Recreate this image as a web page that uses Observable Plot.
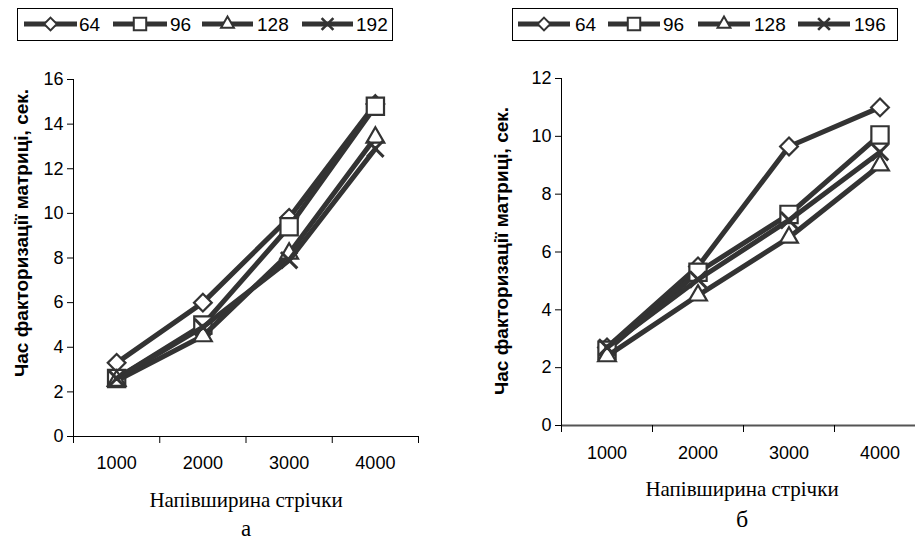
<!DOCTYPE html>
<html><head><meta charset="utf-8">
<script src="https://cdn.jsdelivr.net/npm/d3@7"></script>
<script src="https://cdn.jsdelivr.net/npm/@observablehq/plot@0.6"></script>
<style>
body{margin:0;background:#fff;}
#page{position:relative;width:915px;height:544px;overflow:hidden;background:#fff;font-family:"Liberation Sans",Arial,sans-serif;}
.chart{position:absolute;}
.chart text{font-family:"Liberation Sans",Arial,sans-serif;}
svg.chart g[aria-label="y-axis tick label"]{font-size:18px !important;}
svg.chart g[aria-label="y-axis tick label"] text{font-size:18px !important;}
.ytitle{position:absolute;font:bold 19px "Liberation Sans",Arial,sans-serif;white-space:nowrap;color:#000;line-height:1;transform:translate(-50%,-50%) rotate(-90deg);}
.xtitle{position:absolute;font:21px "Liberation Serif","Times New Roman",serif;white-space:nowrap;color:#000;line-height:1;transform:translate(-50%,-50%);}
.legend{position:absolute;}
.legend text{font-family:"Liberation Sans",Arial,sans-serif;font-size:19px;}
</style></head><body><div id="page"></div>
<script>
// ---- data ----
const categories = [1000, 2000, 3000, 4000];
const xBoundaries = [500, 1500, 2500, 3500, 4500];

const seriesA = ["64", "96", "128", "192"];
const a64  = [3.3, 6.0, 9.8, 14.9];
const a96  = [2.6, 5.0, 9.4, 14.8];
const a128 = [2.5, 4.5, 8.2, 13.4];
const a192 = [2.6, 4.9, 7.9, 12.9];
const yTicksA = [0, 2, 4, 6, 8, 10, 12, 14, 16];

const seriesB = ["64", "96", "128", "196"];
const b64  = [2.7, 5.5, 9.65, 11.0];
const b96  = [2.6, 5.3, 7.3, 10.05];
const b128 = [2.4, 4.5, 6.5, 9.0];
const b196 = [2.7, 5.05, 7.1, 9.45];
const yTicksB = [0, 2, 4, 6, 8, 10, 12];

const yTitle = "Час факторизації матриці, сек.";
const xTitle = "Напівширина стрічки";
const captionA = "а";
const captionB = "б";

// ---- styling ----
const LINE = "#333333";
const symbolNames = ["diamond2", "square2", "triangle2", "times"];
const d3Symbols = [d3.symbolDiamond2, d3.symbolSquare2, d3.symbolTriangle2, d3.symbolTimes];
const radii = [8, 11, 8.5, 7.5];

const page = document.getElementById("page");

function rows(names, arrays) {
  const out = [];
  names.forEach((s, i) => arrays[i].forEach((v, j) => out.push({series: s, idx: i, x: categories[j], y: v})));
  return out;
}

function makeChart(cfg) {
  const data = rows(cfg.names, cfg.arrays);
  const marks = [
    Plot.ruleY([0], {stroke: cfg.axisColor, strokeWidth: cfg.axisWidth}),
    Plot.ruleX([xBoundaries[0]], {stroke: "#000", strokeWidth: 1}),
    Plot.axisY({ticks: cfg.yTicks, tickSize: 6, tickPadding: 4, fontSize: 18, label: null}),
    Plot.axisX({ticks: xBoundaries, tickFormat: () => "", tickSize: 7, label: null}),
    Plot.axisX({ticks: categories, tickFormat: d => String(d), tickSize: 0, tickPadding: cfg.xPad, fontSize: 18, label: null})
  ];
  cfg.names.forEach((s, i) => {
    const sub = data.filter(d => d.idx === i);
    marks.push(Plot.line(sub, {x: "x", y: "y", stroke: LINE, strokeWidth: 5, strokeLinejoin: "round"}));
    marks.push(Plot.dot(sub, {x: "x", y: "y", symbol: () => symbolNames[i], r: radii[i], fill: "white", stroke: LINE, strokeWidth: i === 3 ? 3 : 2.2}));
  });
  const svg = Plot.plot({
    width: cfg.width, height: cfg.height,
    marginLeft: cfg.ml, marginRight: cfg.mr, marginTop: cfg.mt, marginBottom: cfg.mb,
    x: {type: "linear", domain: [xBoundaries[0], xBoundaries[xBoundaries.length - 1]], axis: null},
    y: {domain: [0, cfg.yTicks[cfg.yTicks.length - 1]], axis: null},
    symbol: {type: "identity"},
    style: {fontFamily: "'Liberation Sans', Arial, sans-serif", color: "#000", background: "transparent", overflow: "visible"},
    marks
  });
  svg.classList.add("chart");
  svg.style.left = cfg.left + "px";
  svg.style.top = cfg.top + "px";
  page.appendChild(svg);
}

makeChart({names: seriesA, arrays: [a64, a96, a128, a192], yTicks: yTicksA,
  left: 0, top: 50, width: 430, height: 425, ml: 73, mr: 12, mt: 29, mb: 39, xPad: 20,
  axisColor: "#000", axisWidth: 1});
makeChart({names: seriesB, arrays: [b64, b96, b128, b196], yTicks: yTicksB,
  left: 480, top: 60, width: 445, height: 410, ml: 81, mr: 0, mt: 18, mb: 45, xPad: 21,
  axisColor: "#555", axisWidth: 1.8});

// ---- legends ----
function makeLegend(names, box, items) {
  const W = box.w, H = box.h;
  const svg = d3.create("svg").attr("width", W).attr("height", H).attr("class", "legend")
    .style("left", box.x + "px").style("top", box.y + "px");
  svg.append("rect").attr("x", 0.5).attr("y", 0.5).attr("width", W - 1).attr("height", H - 1)
    .attr("fill", "white").attr("stroke", "#000").attr("stroke-width", 1);
  names.forEach((s, i) => {
    const it = items[i];
    const x1 = it[0] - box.x, x2 = it[1] - box.x, tx = it[2] - box.x, cy = 16;
    svg.append("line").attr("x1", x1).attr("x2", x2).attr("y1", cy).attr("y2", cy)
      .attr("stroke", LINE).attr("stroke-width", 5);
    svg.append("path").attr("d", d3.symbol().type(d3Symbols[i]).size(Math.PI * (radii[i] * 0.72) ** 2)())
      .attr("transform", `translate(${(x1 + x2) / 2},${cy})`)
      .attr("fill", "white").attr("stroke", LINE).attr("stroke-width", i === 3 ? 2.6 : 2);
    svg.append("text").attr("x", tx).attr("y", cy + 7).text(s).attr("fill", "#000");
  });
  page.appendChild(svg.node());
}
makeLegend(seriesA, {x: 17, y: 8, w: 376, h: 33}, [[24, 77, 79], [113, 167, 170], [202, 253, 257], [302, 353, 356]]);
makeLegend(seriesB, {x: 512, y: 8, w: 386, h: 33}, [[518, 570, 575], [608, 660, 663], [698, 750, 754], [798, 850, 854]]);

// ---- titles ----
function addDiv(cls, text, cx, cy, extra) {
  const d = document.createElement("div");
  d.className = cls; d.textContent = text;
  d.style.left = cx + "px"; d.style.top = cy + "px";
  if (extra) Object.assign(d.style, extra);
  page.appendChild(d);
  return d;
}
addDiv("ytitle", yTitle, 21, 233);
addDiv("ytitle", yTitle, 501, 251);
addDiv("xtitle", xTitle, 246, 500);
addDiv("xtitle", xTitle, 742, 489);
addDiv("xtitle", captionA, 246, 528, {fontSize: "23px"});
addDiv("xtitle", captionB, 742, 519, {fontSize: "24px"});
</script>
</body></html>
